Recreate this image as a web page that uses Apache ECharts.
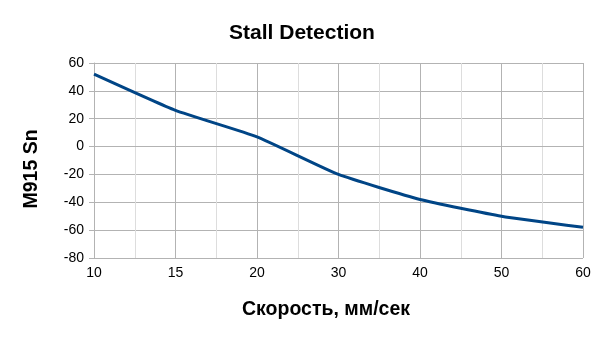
<!DOCTYPE html>
<html><head><meta charset="utf-8">
<script src="https://cdn.jsdelivr.net/npm/echarts@6/dist/echarts.min.js"></script>
<style>html,body{margin:0;padding:0;background:#fff}#c{width:604px;height:340px}</style>
</head><body><div id="c"></div>
<script>
const categories = ['10','15','20','30','40','50','60'];
const values = [52, 26, 7, -20, -38, -50, -58];
const yTicks = [-80, -60, -40, -20, 0, 20, 40, 60];

const chart = echarts.init(document.getElementById('c'), null, {renderer:'canvas'});
const font = 'Liberation Sans, Arial, sans-serif';
chart.setOption({
  animation:false,
  backgroundColor:'#fff',
  title:{text:'Stall Detection', left:'center', top:18,
    textStyle:{fontFamily:font, fontWeight:'bold', fontSize:21, color:'#000'}},
  grid:{left:94, right:21, top:63, bottom:82},
  xAxis:{
    type:'value', min:0, max:categories.length-1, interval:1,
    name:'Скорость, мм/сек', nameLocation:'middle', nameGap:42,
    nameTextStyle:{fontFamily:font, fontWeight:'bold', fontSize:19.5, color:'#000', padding:[0,25,0,0]},
    axisLine:{show:true, lineStyle:{color:'#b3b3b3'}},
    axisTick:{show:true, length:5, lineStyle:{color:'#b3b3b3'}},
    axisLabel:{fontFamily:font, fontSize:14, color:'#000', margin:8,
      formatter:(v)=>categories[v] ?? ''},
    splitLine:{show:true, lineStyle:{color:'#b3b3b3'}},
    minorTick:{show:false, splitNumber:2},
    minorSplitLine:{show:true, lineStyle:{color:'#dddddd'}}
  },
  yAxis:{
    type:'value', min:yTicks[0], max:yTicks[yTicks.length-1], interval:20,
    name:'M915 Sn', nameLocation:'middle', nameGap:52,
    nameTextStyle:{fontFamily:font, fontWeight:'bold', fontSize:19.5, color:'#000', padding:[0,17,0,0]},
    axisLine:{show:true, lineStyle:{color:'#b3b3b3'}},
    axisTick:{show:true, length:5, lineStyle:{color:'#b3b3b3'}},
    axisLabel:{fontFamily:font, fontSize:14, color:'#000', margin:10},
    splitLine:{show:true, lineStyle:{color:'#b3b3b3'}}
  },
  series:[{
    type:'line', data:values.map((v,i)=>[i,v]),
    showSymbol:false, smooth:0.15,
    lineStyle:{color:'#004586', width:3},
    itemStyle:{color:'#004586'}
  }]
});
</script></body></html>
